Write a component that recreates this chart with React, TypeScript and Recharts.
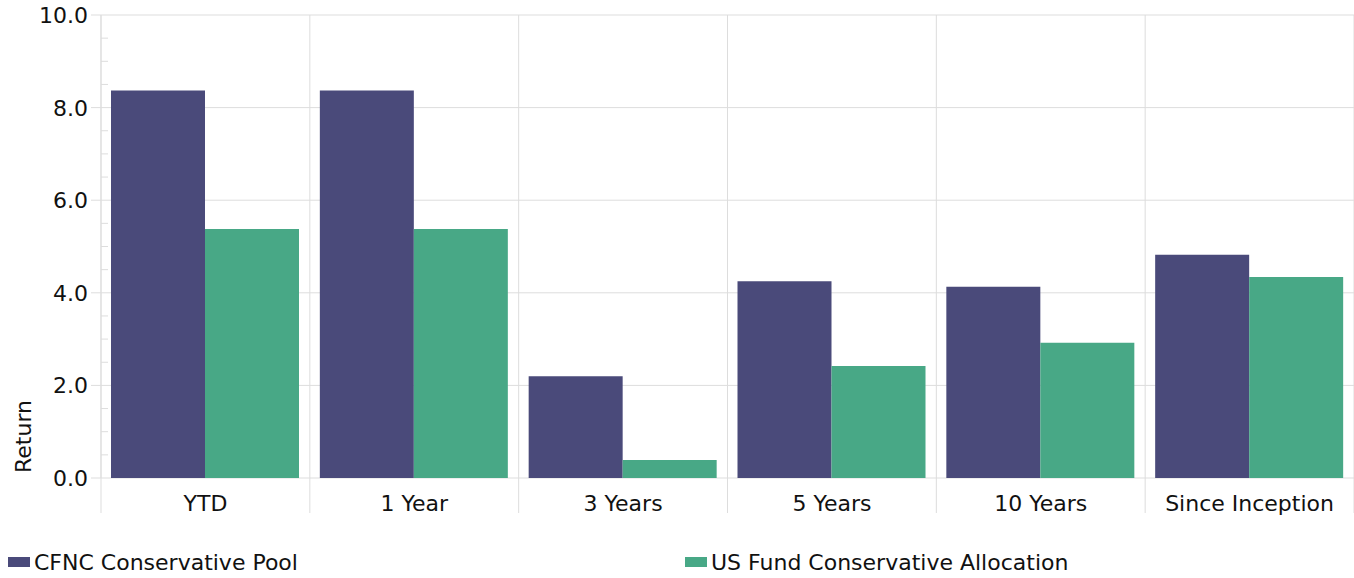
import { Bar, BarChart, CartesianGrid, Legend, XAxis, YAxis } from "recharts";

const categories = ["YTD", "1 Year", "3 Years", "5 Years", "10 Years", "Since Inception"];
const poolReturns = [8.37, 8.37, 2.2, 4.25, 4.13, 4.82];
const benchmarkReturns = [5.38, 5.38, 0.39, 2.42, 2.92, 4.34];
const majorTicks = [0, 2, 4, 6, 8, 10];
const minorTicks = [0.5, 1, 1.5, 2.5, 3, 3.5, 4.5, 5, 5.5, 6.5, 7, 7.5, 8.5, 9, 9.5];
const seriesNames = ["CFNC Conservative Pool", "US Fund Conservative Allocation"];

const data = categories.map((name, i) => ({
  name,
  pool: poolReturns[i],
  benchmark: benchmarkReturns[i],
}));

const FONT = "'DejaVu Sans', Verdana, sans-serif";
const FS = 22;
const GRID = "#dddddd";
const PURPLE = "#4a4a7a";
const GREEN = "#48a886";

// y tick: label + long tick for majors, short inner tick for minors
const YTick = (props: any) => {
  const { x, y, payload } = props;
  const v = payload.value;
  if (majorTicks.includes(v)) {
    return (
      <g>
        <line x1={x - 10} x2={x} y1={y} y2={y} stroke={GRID} />
        <text x={x - 13} y={y + 8} textAnchor="end" fontFamily={FONT} fontSize={FS} fill="#111">
          {v.toFixed(1)}
        </text>
      </g>
    );
  }
  return <line x1={x} x2={x + 7} y1={y} y2={y} stroke={GRID} />;
};

// x tick: centred label + separator lines between categories
const XTick = (props: any) => {
  const { x, y, payload, index } = props;
  const half = payload.offset || 104.4;
  return (
    <g>
      <line x1={x - half} x2={x - half} y1={y} y2={y + 35} stroke={GRID} />
      {index === categories.length - 1 && (
        <line x1={x + half} x2={x + half} y1={y} y2={y + 35} stroke={GRID} />
      )}
      <text x={x} y={y + 33} textAnchor="middle" fontFamily={FONT} fontSize={FS} fill="#111">
        {payload.value}
      </text>
    </g>
  );
};

const LegendContent = () => {
  const colors = [PURPLE, GREEN];
  return (
    <div style={{ display: "flex", height: 32, fontFamily: FONT, fontSize: FS, color: "#111" }}>
      {seriesNames.map((s, i) => (
        <div key={s} style={{ width: 681, display: "flex", alignItems: "center", paddingLeft: 8, boxSizing: "border-box" }}>
          <span style={{ width: 22, height: 10, background: colors[i], display: "inline-block", marginRight: 4 }} />
          <span>{s}</span>
        </div>
      ))}
    </div>
  );
};

export default function App() {
  return (
    <div style={{ position: "absolute", left: 0, top: 0 }}>
      <BarChart
        width={1354}
        height={578}
        data={data}
        margin={{ top: 15, right: 0, left: 0, bottom: 0 }}
        barCategoryGap={10}
        barGap={0}
      >
        <CartesianGrid
          stroke={GRID}
          horizontalValues={majorTicks}
          verticalCoordinatesGenerator={({ offset }: any) =>
            categories.concat([""]).map((_, i) => offset.left + (offset.width * i) / categories.length)
          }
        />
        <XAxis
          dataKey="name"
          height={68}
          tickSize={0}
          tickMargin={0}
          tickLine={false}
          axisLine={false}
          tick={XTick}
          interval={0}
        />
        <YAxis
          width={101}
          domain={[0, 10]}
          ticks={[...majorTicks, ...minorTicks].sort((a, b) => a - b)}
          tickSize={0}
          tickMargin={0}
          tickLine={false}
          axisLine={{ stroke: GRID }}
          tick={YTick}
          interval={0}
          label={{
            content: () => (
              <text
                x={31}
                y={473}
                transform="rotate(-90 31 473)"
                fontFamily={FONT}
                fontSize={FS}
                fill="#111"
              >
                Return
              </text>
            ),
          }}
        />
        <Legend verticalAlign="bottom" content={LegendContent} wrapperStyle={{ left: 0, bottom: 0 }} />
        <Bar dataKey="pool" name={seriesNames[0]} fill={PURPLE} isAnimationActive={false} />
        <Bar dataKey="benchmark" name={seriesNames[1]} fill={GREEN} isAnimationActive={false} />
      </BarChart>
    </div>
  );
}
